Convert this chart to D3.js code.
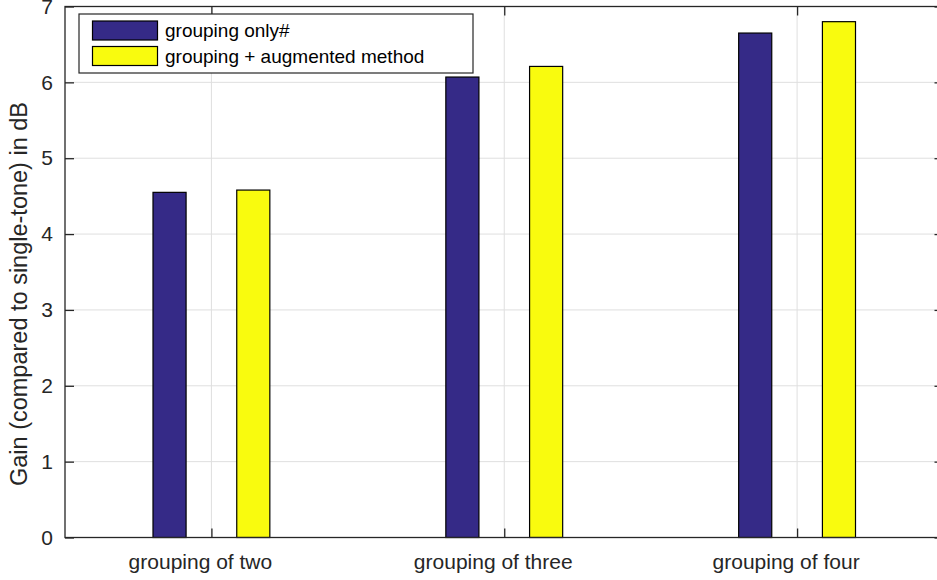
<!DOCTYPE html>
<html><head><meta charset="utf-8">
<script src="https://cdn.jsdelivr.net/npm/d3@7"></script>
<style>body{margin:0;background:#fff}svg{display:block}</style>
</head><body>
<svg id="c" width="937" height="580"></svg>
<script>
const categories = ["grouping of two", "grouping of three", "grouping of four"];
const seriesNames = ["grouping only#", "grouping + augmented method"];
const groupingOnly = [4.55, 6.07, 6.65];
const groupingAugmented = [4.58, 6.21, 6.80];
const seriesColors = ["#352a87", "#f9fb0e"];
const yTicks = [0, 1, 2, 3, 4, 5, 6, 7];
const yLabel = "Gain (compared to single-tone) in dB";

const svg = d3.select("#c");
const L = 65, R = 943.5, T = 6.5, B = 537.5;
const font = "'Liberation Sans', Arial, Helvetica, sans-serif";
const axisCol = "#262626";

const x = d3.scaleLinear().domain([0.5, 3.5]).range([L, R]);
const y = d3.scaleLinear().domain([0, 7]).range([B, T]);
const barW = 0.113, off = 0.143;
const series = [groupingOnly, groupingAugmented];

// grid
const g = svg.append("g");
g.selectAll(".hg").data(yTicks.slice(1, -1)).enter().append("line")
  .attr("x1", L).attr("x2", R).attr("y1", d => y(d)).attr("y2", d => y(d))
  .attr("stroke", "#dfdfdf").attr("stroke-width", 1);
g.selectAll(".vg").data(categories).enter().append("line")
  .attr("x1", (d, i) => x(i + 1)).attr("x2", (d, i) => x(i + 1)).attr("y1", T).attr("y2", B)
  .attr("stroke", "#dfdfdf").attr("stroke-width", 1);

// bars
series.forEach((vals, s) => {
  svg.append("g").selectAll("rect").data(vals).enter().append("rect")
    .attr("x", (d, i) => x(i + 1 + (s === 0 ? -off : off) - barW / 2))
    .attr("width", x(barW) - x(0))
    .attr("y", d => y(d))
    .attr("height", d => y(0) - y(d))
    .attr("fill", seriesColors[s])
    .attr("stroke", "#000").attr("stroke-width", 1.2);
});

// axes box
svg.append("rect").attr("x", L).attr("y", T).attr("width", R - L).attr("height", B - T)
  .attr("fill", "none").attr("stroke", axisCol).attr("stroke-width", 1.3);

// y axis (left) and right ticks
const yAxisL = d3.axisLeft(y).tickValues(yTicks).tickFormat(d3.format("d"))
  .tickSizeInner(-9).tickSizeOuter(0).tickPadding(12);
const gy = svg.append("g").attr("transform", `translate(${L},0)`).call(yAxisL);
gy.select(".domain").remove();
gy.selectAll("line").attr("stroke", axisCol).attr("stroke-width", 1.3);
gy.selectAll("text").attr("font-family", font).attr("font-size", 21).attr("fill", axisCol).attr("x", -12);
const yAxisR = d3.axisRight(y).tickValues(yTicks).tickSizeInner(-9).tickSizeOuter(0).tickFormat("");
const gyr = svg.append("g").attr("transform", `translate(${R},0)`).call(yAxisR);
gyr.select(".domain").remove();
gyr.selectAll("line").attr("stroke", axisCol).attr("stroke-width", 1.3);

// x axis
const xAxisB = d3.axisBottom(x).tickValues([1, 2, 3]).tickFormat((d) => categories[d - 1])
  .tickSizeInner(-9).tickSizeOuter(0).tickPadding(16.5);
const gx = svg.append("g").attr("transform", `translate(0,${B})`).call(xAxisB);
gx.select(".domain").remove();
gx.selectAll("line").attr("stroke", axisCol).attr("stroke-width", 1.3);
gx.selectAll("text").attr("font-family", font).attr("font-size", 21).attr("fill", axisCol).attr("dx", -11.5);
const xAxisT = d3.axisTop(x).tickValues([1, 2, 3]).tickSizeInner(-9).tickSizeOuter(0).tickFormat("");
const gxt = svg.append("g").attr("transform", `translate(0,${T})`).call(xAxisT);
gxt.select(".domain").remove();
gxt.selectAll("line").attr("stroke", axisCol).attr("stroke-width", 1.3);

// y label
svg.append("text").attr("transform", "translate(27,294) rotate(-90)")
  .attr("text-anchor", "middle").attr("font-family", font).attr("font-size", 23.5)
  .attr("fill", axisCol).text(yLabel);

// legend
const lg = svg.append("g");
lg.append("rect").attr("x", 79).attr("y", 14).attr("width", 394).attr("height", 59)
  .attr("fill", "#fff").attr("stroke", axisCol).attr("stroke-width", 1.2);
seriesNames.forEach((n, i) => {
  lg.append("rect").attr("x", 92.5).attr("y", 21 + i * 25.5).attr("width", 65).attr("height", 19)
    .attr("fill", seriesColors[i]).attr("stroke", "#000").attr("stroke-width", 1.2);
  lg.append("text").attr("x", 165).attr("y", 37 + i * 25.5).attr("font-family", font)
    .attr("font-size", 19).attr("fill", "#000").text(n);
});
</script>
</body></html>
